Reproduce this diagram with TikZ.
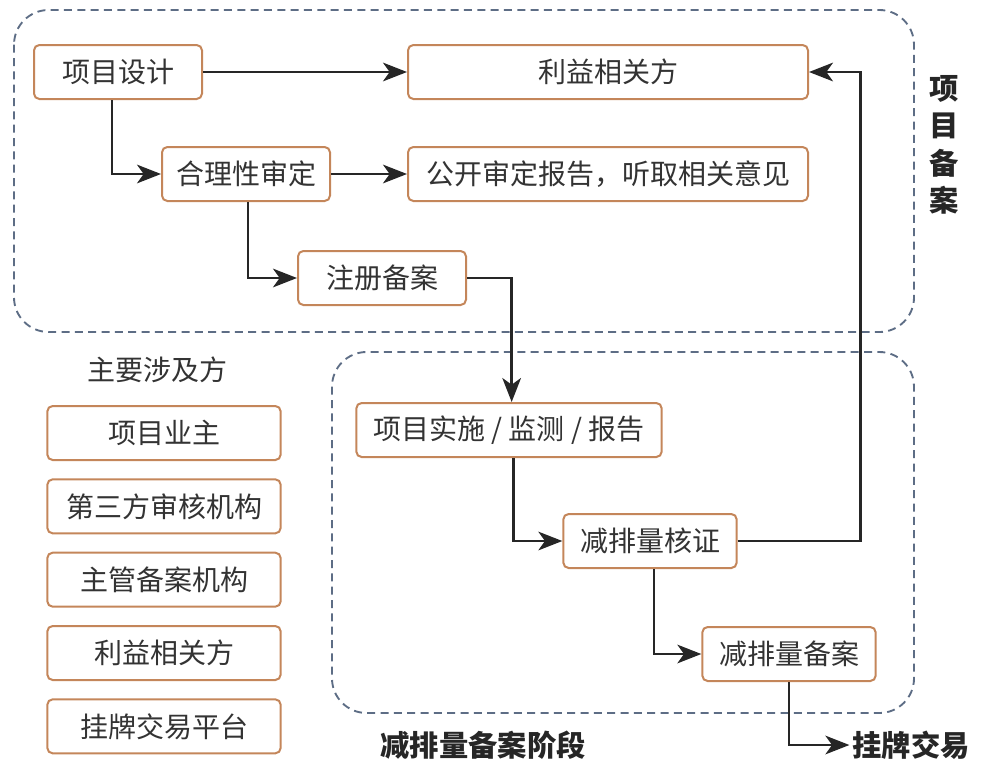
\documentclass[tikz,border=0pt]{standalone}
\usepackage{fontspec}
\setmainfont{Noto Sans CJK SC}
\usetikzlibrary{positioning,arrows.meta}
\definecolor{boxline}{RGB}{196,134,90}
\definecolor{dashline}{RGB}{93,109,133}
\definecolor{txt}{RGB}{51,51,51}

\begin{document}
\begin{tikzpicture}[
    x=0.75pt, y=-0.75pt,
    node distance=13pt,
    box/.style={draw=boxline, line width=1.5pt, rounded corners=4pt, fill=white, text=txt,
      font=\fontsize{21}{24}\selectfont, inner sep=0pt, minimum height=40.5pt},
    arrow/.style={-{Stealth[length=18pt,width=14pt,inset=5pt]}, line width=1.8pt, draw=black!85},
    stage/.style={draw=dashline, dash pattern=on 6pt off 4pt, line width=1.4pt, rounded corners=26pt},
    tag/.style={font=\fontsize{22}{28}\selectfont\bfseries, text=black!85, align=center}
  ]
    \useasboundingbox (0,0) rectangle (981,768);

    % stage frames
    \draw[stage] (14,10) rectangle (914,332);
    \draw[stage] (332,352) rectangle (914,713);

    % project filing
    \node[box, minimum width=126pt] (design) at (118,72) {项目设计};
    \node[box, minimum width=300pt] (stake) at (608,72) {利益相关方};
    \node[box, minimum width=126pt] (review) at (246,174) {合理性审定};
    \node[box, minimum width=300pt] (report) at (608,174) {公开审定报告，听取相关意见};
    \node[box, minimum width=126pt] (register) at (382,278) {注册备案};

    % emission reduction filing
    \node[box, minimum width=229pt] (monitor) at (509,430) {项目实施 / 监测 / 报告};
    \node[box, minimum width=130pt] (verify) at (650,541) {减排量核证};
    \node[box, minimum width=130pt] (record) at (789,654) {减排量备案};

    \node[tag] (stage1) at (944,145) {项\\目\\备\\案};
    \node[tag] (stage2) at (483,745) {减排量备案阶段};
    \node[tag, inner sep=2pt] (market) at (911,745) {挂牌交易};

    % parties
    \node[text=txt, font=\fontsize{21}{24}\selectfont] (parties) at (157,370) {主要涉及方};
    \node[box, minimum width=175pt] (owner) at (164,433) {项目业主};
    \node[box, minimum width=175pt, below=of owner] (auditor) {第三方审核机构};
    \node[box, minimum width=175pt, below=of auditor] (authority) {主管备案机构};
    \node[box, minimum width=175pt, below=of authority] (holders) {利益相关方};
    \node[box, minimum width=175pt, below=of holders] (platform) {挂牌交易平台};

    \draw[arrow] (design) -- (stake);
    \draw[arrow] ([xshift=-4.5pt]design.south) |- (review.west);
    \draw[arrow] (review) -- (report);
    \draw[arrow] ([xshift=1.5pt]review.south) |- (register.west);
    \draw[arrow] (register.east) -| ([xshift=2pt]monitor.north);
    \draw[arrow] ([xshift=3.5pt]monitor.south) |- (verify.west);
    \draw[arrow] (verify.east) -- ++(123,0) |- (stake.east);
    \draw[arrow] ([xshift=3pt]verify.south) |- (record.west);
    \draw[arrow] (record.south) |- (market.west);
  \end{tikzpicture}
\end{document}
